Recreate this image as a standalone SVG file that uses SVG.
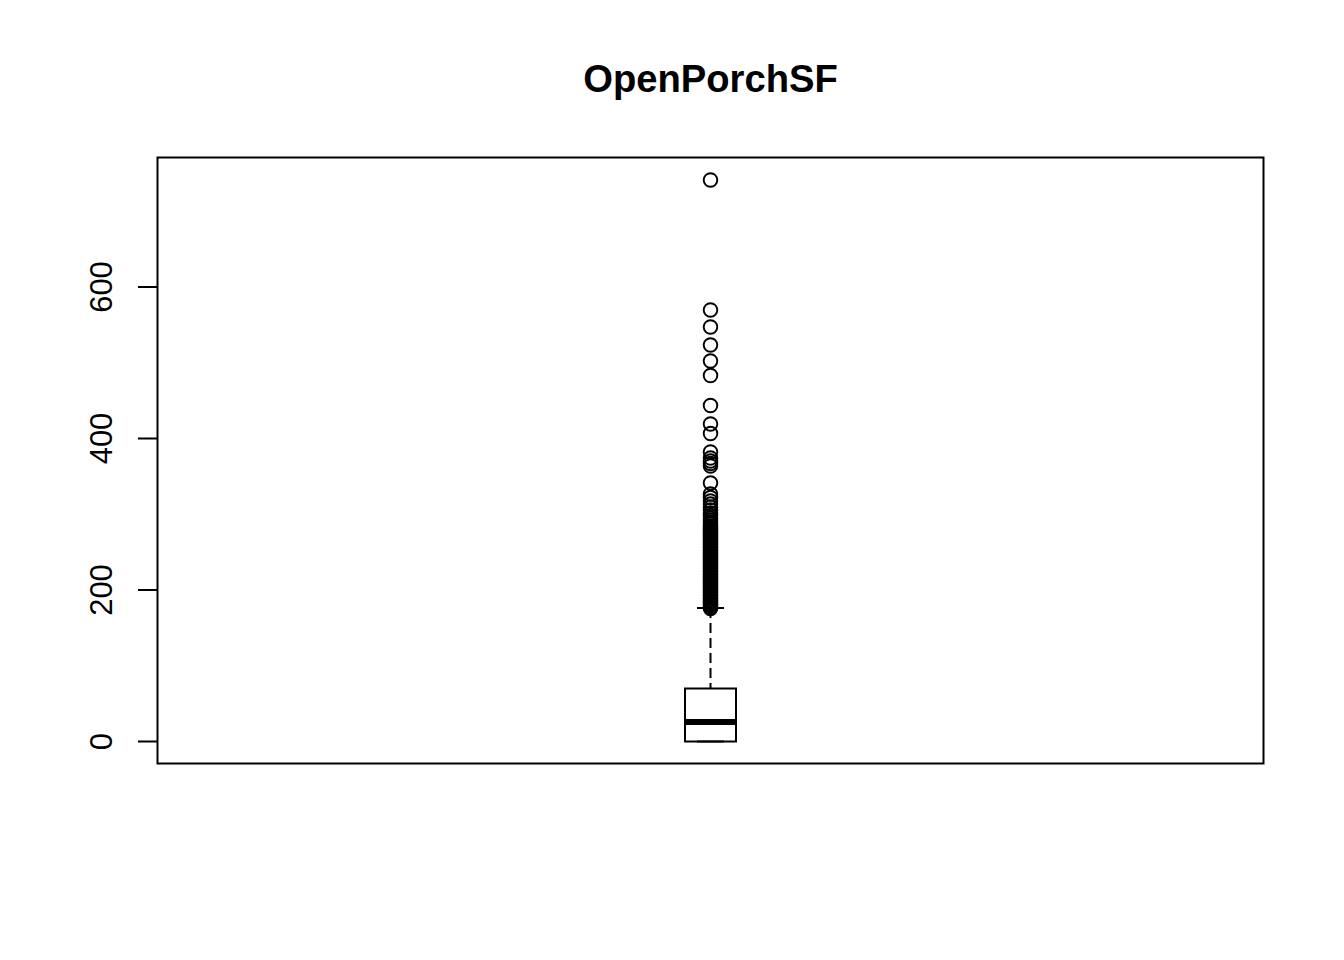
<svg xmlns="http://www.w3.org/2000/svg" width="1344" height="960" viewBox="0 0 1344 960">
<style>
text{font-family:"Liberation Sans",Arial,sans-serif;fill:#000}
.ax{font-size:31px;text-anchor:middle}
.ln{stroke:#000;stroke-width:2;fill:none}
.pt{stroke:#000;stroke-width:1.9;fill:none}
</style>
<rect width="1344" height="960" fill="#fff"/>
<g id="title"><text x="710.5" y="92" style="font-size:38.2px;font-weight:bold" text-anchor="middle">OpenPorchSF</text></g>
<g id="frame"><rect class="ln" x="157.5" y="157.5" width="1106" height="606"/></g>
<g id="yaxis">
<path class="ln" d="M157.5,741.5H138M157.5,590H138M157.5,438.5H138M157.5,287H138"/>
<text class="ax" transform="translate(111.5,741.5) rotate(-90)">0</text>
<text class="ax" transform="translate(111.5,590) rotate(-90)">200</text>
<text class="ax" transform="translate(111.5,438.5) rotate(-90)">400</text>
<text class="ax" transform="translate(111.5,287) rotate(-90)">600</text>
</g>
<g id="box">
<rect class="ln" x="685" y="688.5" width="51" height="53"/>
<line x1="685" y1="722" x2="736" y2="722" stroke="#000" stroke-width="6"/>
<line x1="710.5" y1="608" x2="710.5" y2="688.5" stroke="#000" stroke-width="2" stroke-dasharray="10,5"/>
<path class="ln" d="M697,608H724M697,741.5H724"/>
</g>
<g id="outliers">
<circle class="pt" cx="710.5" cy="180" r="6.8"/>
<circle class="pt" cx="710.5" cy="310" r="6.8"/>
<circle class="pt" cx="710.5" cy="327" r="6.8"/>
<circle class="pt" cx="710.5" cy="345" r="6.8"/>
<circle class="pt" cx="710.5" cy="361" r="6.8"/>
<circle class="pt" cx="710.5" cy="375.5" r="6.8"/>
<circle class="pt" cx="710.5" cy="405.5" r="6.8"/>
<circle class="pt" cx="710.5" cy="424" r="6.8"/>
<circle class="pt" cx="710.5" cy="433.5" r="6.8"/>
<circle class="pt" cx="710.5" cy="452" r="6.8"/>
<circle class="pt" cx="710.5" cy="458" r="6.8"/>
<circle class="pt" cx="710.5" cy="461" r="6.8"/>
<circle class="pt" cx="710.5" cy="463.5" r="6.8"/>
<circle class="pt" cx="710.5" cy="466" r="6.8"/>
<circle class="pt" cx="710.5" cy="483" r="6.8"/>
<circle class="pt" cx="710.5" cy="494" r="6.8"/>
<circle class="pt" cx="710.5" cy="497.5" r="6.8"/>
<circle class="pt" cx="710.5" cy="501" r="6.8"/>
<circle class="pt" cx="710.5" cy="504" r="6.8"/>
<circle class="pt" cx="710.5" cy="507" r="6.8"/>
<circle class="pt" cx="710.5" cy="510" r="6.8"/>
<circle class="pt" cx="710.5" cy="513" r="6.8"/>
<circle class="pt" cx="710.5" cy="515.5" r="6.8"/>
<circle class="pt" cx="710.5" cy="518" r="6.8"/>
<circle class="pt" cx="710.5" cy="520" r="6.8"/>
<circle class="pt" cx="710.5" cy="522" r="6.8"/>
<circle class="pt" cx="710.5" cy="524" r="6.8"/>
<circle class="pt" cx="710.5" cy="526" r="6.8"/>
<circle class="pt" cx="710.5" cy="527.5" r="6.8"/>
<circle class="pt" cx="710.5" cy="529" r="6.8"/>
<circle class="pt" cx="710.5" cy="530.5" r="6.8"/>
<circle class="pt" cx="710.5" cy="532" r="6.8"/>
<circle class="pt" cx="710.5" cy="533.5" r="6.8"/>
<circle class="pt" cx="710.5" cy="535" r="6.8"/>
<circle class="pt" cx="710.5" cy="536.5" r="6.8"/>
<circle class="pt" cx="710.5" cy="538" r="6.8"/>
<circle class="pt" cx="710.5" cy="539.5" r="6.8"/>
<circle class="pt" cx="710.5" cy="541" r="6.8"/>
<circle class="pt" cx="710.5" cy="542.5" r="6.8"/>
<circle class="pt" cx="710.5" cy="544" r="6.8"/>
<circle class="pt" cx="710.5" cy="545.5" r="6.8"/>
<circle class="pt" cx="710.5" cy="547" r="6.8"/>
<circle class="pt" cx="710.5" cy="548.5" r="6.8"/>
<circle class="pt" cx="710.5" cy="550" r="6.8"/>
<circle class="pt" cx="710.5" cy="551.5" r="6.8"/>
<circle class="pt" cx="710.5" cy="553" r="6.8"/>
<circle class="pt" cx="710.5" cy="554.5" r="6.8"/>
<circle class="pt" cx="710.5" cy="556" r="6.8"/>
<circle class="pt" cx="710.5" cy="557.5" r="6.8"/>
<circle class="pt" cx="710.5" cy="559" r="6.8"/>
<circle class="pt" cx="710.5" cy="560.5" r="6.8"/>
<circle class="pt" cx="710.5" cy="562" r="6.8"/>
<circle class="pt" cx="710.5" cy="563.5" r="6.8"/>
<circle class="pt" cx="710.5" cy="565" r="6.8"/>
<circle class="pt" cx="710.5" cy="566.5" r="6.8"/>
<circle class="pt" cx="710.5" cy="568" r="6.8"/>
<circle class="pt" cx="710.5" cy="569.5" r="6.8"/>
<circle class="pt" cx="710.5" cy="571" r="6.8"/>
<circle class="pt" cx="710.5" cy="572.5" r="6.8"/>
<circle class="pt" cx="710.5" cy="574" r="6.8"/>
<circle class="pt" cx="710.5" cy="575.5" r="6.8"/>
<circle class="pt" cx="710.5" cy="577" r="6.8"/>
<circle class="pt" cx="710.5" cy="578.5" r="6.8"/>
<circle class="pt" cx="710.5" cy="580" r="6.8"/>
<circle class="pt" cx="710.5" cy="581.5" r="6.8"/>
<circle class="pt" cx="710.5" cy="583" r="6.8"/>
<circle class="pt" cx="710.5" cy="584.5" r="6.8"/>
<circle class="pt" cx="710.5" cy="586" r="6.8"/>
<circle class="pt" cx="710.5" cy="587.5" r="6.8"/>
<circle class="pt" cx="710.5" cy="589" r="6.8"/>
<circle class="pt" cx="710.5" cy="590.5" r="6.8"/>
<circle class="pt" cx="710.5" cy="592" r="6.8"/>
<circle class="pt" cx="710.5" cy="593.5" r="6.8"/>
<circle class="pt" cx="710.5" cy="595" r="6.8"/>
<circle class="pt" cx="710.5" cy="596.5" r="6.8"/>
<circle class="pt" cx="710.5" cy="598" r="6.8"/>
<circle class="pt" cx="710.5" cy="599.5" r="6.8"/>
<circle class="pt" cx="710.5" cy="601" r="6.8"/>
<circle class="pt" cx="710.5" cy="602.5" r="6.8"/>
<circle class="pt" cx="710.5" cy="604" r="6.8"/>
<circle class="pt" cx="710.5" cy="605.5" r="6.8"/>
<circle class="pt" cx="710.5" cy="607" r="6.8"/>
<circle class="pt" cx="710.5" cy="608.5" r="6.8"/>
</g>
</svg>
